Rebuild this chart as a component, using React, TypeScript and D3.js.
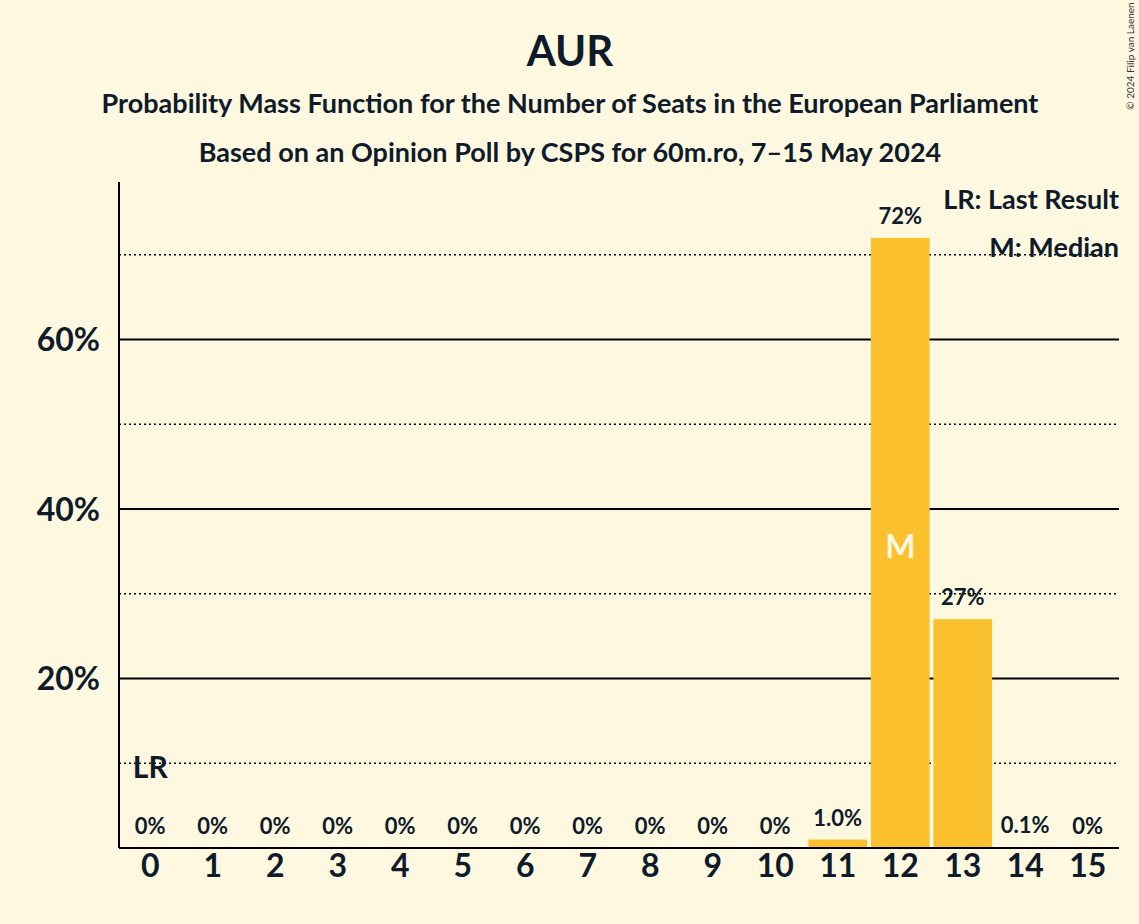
import React from "react";
import * as d3 from "d3";

const seats = [0,1,2,3,4,5,6,7,8,9,10,11,12,13,14,15];
const probs = [0,0,0,0,0,0,0,0,0,0,0,1.0,72,27,0.1,0];
const labels = ["0%","0%","0%","0%","0%","0%","0%","0%","0%","0%","0%","1.0%","72%","27%","0.1%","0%"];
const solidTicks = [20,40,60];
const dottedTicks = [10,30,50,70];
const lastResult = 0;
const median = 12;

export default function App() {
  const W = 1139, H = 924;
  const left = 119, right = 1119, bottom = 848;
  const x = d3.scaleBand<number>().domain(seats).range([left, right]).paddingInner(0.06).paddingOuter(0.03);
  const y = d3.scaleLinear().domain([0, 78.6]).range([bottom, 182]);
  const font = "Lato, 'Open Sans', sans-serif";
  const bg = "#FFF8E1";
  return (
    <svg width={W} height={H} style={{ position: "absolute", left: 0, top: 0, fontFamily: font, fontWeight: 700 }}>
      <rect width={W} height={H} fill={bg} />
      <text x={570} y={66} textAnchor="middle" fontSize={42} fill="#0d1b2a">AUR</text>
      <text x={570} y={113} textAnchor="middle" fontSize={27} fill="#0d1b2a">Probability Mass Function for the Number of Seats in the European Parliament</text>
      <text x={570} y={162} textAnchor="middle" fontSize={27} fill="#0d1b2a">Based on an Opinion Poll by CSPS for 60m.ro, 7–15 May 2024</text>
      <text transform="translate(1134,56) rotate(-90)" textAnchor="middle" fontSize={10} fontWeight={400} fill="#333">© 2024 Filip van Laenen</text>
      {dottedTicks.map(t => (
        <line key={"d"+t} x1={left} x2={right} y1={y(t)} y2={y(t)} stroke="#000" strokeWidth={1.5} strokeDasharray="2,3" />
      ))}
      {solidTicks.map(t => (
        <g key={"s"+t}>
          <line x1={left} x2={right} y1={y(t)} y2={y(t)} stroke="#000" strokeWidth={2} />
          <text x={100} y={y(t)} dy="0.36em" textAnchor="end" fontSize={32} fill="#0d1b2a">{t}%</text>
        </g>
      ))}
      {seats.map((s, i) => (
        <g key={s}>
          <rect x={x(s)} y={y(probs[i])} width={x.bandwidth()} height={bottom - y(probs[i])} fill="#FBC02D" />
          <text x={x(s)! + x.bandwidth()/2} y={y(probs[i]) - 14} textAnchor="middle" fontSize={22} fill="#0d1b2a">{labels[i]}</text>
          <text x={x(s)! + x.bandwidth()/2} y={877} textAnchor="middle" fontSize={32} fill="#0d1b2a">{s}</text>
        </g>
      ))}
      <text x={x(lastResult)! + x.bandwidth()/2} y={778} textAnchor="middle" fontSize={30} fill="#0d1b2a">LR</text>
      <text x={x(median)! + x.bandwidth()/2} y={558} textAnchor="middle" fontSize={32} fill="#FFF8E1">M</text>
      <line x1={left} x2={left} y1={182} y2={bottom} stroke="#000" strokeWidth={2} />
      <line x1={left} x2={right} y1={bottom} y2={bottom} stroke="#000" strokeWidth={2} />
      <text x={right} y={209} textAnchor="end" fontSize={27} fill="#0d1b2a">LR: Last Result</text>
      <text x={right} y={257} textAnchor="end" fontSize={27} fill="#0d1b2a">M: Median</text>
    </svg>
  );
}
